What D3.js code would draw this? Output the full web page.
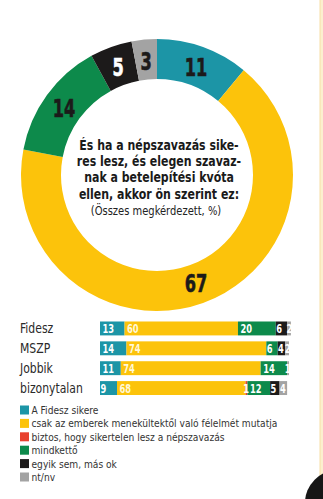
<!DOCTYPE html>
<html><head><meta charset="utf-8">
<script src="https://cdn.jsdelivr.net/npm/d3@7/dist/d3.min.js"></script>
<style>
body{margin:0;background:#fff;}
svg{display:block;}
</style></head>
<body>
<svg id="c" width="323" height="499"></svg>
<script>
// ---- data ----
const donutCats = ["A Fidesz sikere","csak az emberek menekültektől való félelmét mutatja","mindkettő","egyik sem, más ok","nt/nv"];
const donutValues = [11, 67, 14, 5, 3];
const donutColorKeys = [0, 1, 3, 4, 5];

const legendLabels = ["A Fidesz sikere","csak az emberek menekültektől való félelmét mutatja","biztos, hogy sikertelen lesz a népszavazás","mindkettő","egyik sem, más ok","nt/nv"];
const colors = ["#1c95a6","#fcc30b","#e8412e","#0d8a4b","#1c1a1a","#a3a3a3"];

const groups = ["Fidesz","MSZP","Jobbik","bizonytalan"];
const fideszSikere = [13, 14, 11, 9];
const felelem      = [60, 74, 74, 68];
const sikertelen   = [0, 0, 0, 1];
const mindketto    = [20, 6, 14, 12];
const egyikSem     = [6, 4, 0, 5];
const ntnv         = [2, 2, 1, 4];

const titleLines = ["És ha a népszavazás sike-","res lesz, és elegen szavaz-","nak a betelepítési kvóta","ellen, akkor ön szerint ez:"];
const subtitle = "(Összes megkérdezett, %)";

const svg = d3.select("#c");
const narrow = "'DejaVu Sans Condensed','Liberation Sans',Arial,sans-serif";

// condense text horizontally by a factor
function condense(sel, f){
  sel.each(function(){
    const w = this.getComputedTextLength();
    d3.select(this).attr("textLength", w*f).attr("lengthAdjust","spacingAndGlyphs");
  });
  return sel;
}

// right cream strip + decorative blob
svg.append("rect").attr("x",320).attr("y",0).attr("width",3).attr("height",499).attr("fill","#fcefcf");
svg.append("line").attr("x1",320).attr("x2",320).attr("y1",0).attr("y2",499).attr("stroke","#f6dfa6").attr("stroke-width",1);
svg.append("circle").attr("cx",338).attr("cy",503).attr("r",33).attr("fill","#161616");

// ---- donut ----
const cx = 157, cy = 175, rO = 136, rI = 96;
const pie = d3.pie().sort(null).value(d=>d)(donutValues);
const arc = d3.arc().innerRadius(rI).outerRadius(rO);
const g = svg.append("g").attr("transform",`translate(${cx},${cy})`);
g.selectAll("path").data(pie).join("path")
  .attr("d",arc).attr("fill",(d,i)=>colors[donutColorKeys[i]]);
const labArc = d3.arc().innerRadius(rI+19).outerRadius(rI+19);
g.selectAll("text").data(pie).join("text")
  .attr("transform",d=>{const [x,y]=labArc.centroid(d);return `translate(${x},${y}) scale(0.72,1)`;})
  .attr("text-anchor","middle").attr("dy","0.37em")
  .attr("font-family","'DejaVu Sans Condensed',sans-serif").attr("font-weight","bold")
  .attr("font-size",25).attr("stroke-width",0.6)
  .attr("fill",(d,i)=>donutColorKeys[i]===4?"#fff":"#1c1a1a")
  .attr("stroke",(d,i)=>donutColorKeys[i]===4?"#fff":"#1c1a1a")
  .text(d=>d.data);

// center text
titleLines.forEach((t,i)=>{
  const tx = svg.append("text").attr("x",cx+2).attr("y",150+i*16.2)
    .attr("text-anchor","middle").attr("font-family",narrow).attr("font-weight","bold")
    .attr("font-size",14).attr("fill","#1a1a1a").text(t);
  condense(tx,0.87);
});
condense(svg.append("text").attr("x",cx-1).attr("y",215).attr("text-anchor","middle")
  .attr("font-family",narrow).attr("font-size",13).attr("fill","#222").text(subtitle),0.85);

// ---- bars ----
const series = [fideszSikere, felelem, sikertelen, mindketto, egyikSem, ntnv];
const x = d3.scaleLinear().domain([0,100]).range([100,289]);
const y = d3.scaleBand().domain(groups).range([320.5,396]).paddingInner(0.3).paddingOuter(0.05);
const rows = groups.map((gname,j)=>{let acc=0;return series.map((s,k)=>{const v=s[j];const r={g:gname,k,v,x0:acc,x1:acc+v};acc+=v;return r;});});
const flat = rows.flat().filter(d=>d.v>0);
svg.append("g").selectAll("rect").data(flat).join("rect")
  .attr("x",d=>x(d.x0)).attr("width",d=>x(d.x1)-x(d.x0))
  .attr("y",d=>y(d.g)).attr("height",y.bandwidth())
  .attr("fill",d=>colors[d.k]);
condense(svg.append("g").selectAll("text").data(flat).join("text")
  .attr("x",d=>d.v<3 ? x(d.x1)+1.5 : x(d.x0)+(d.v<10?0.4:2.5))
  .attr("text-anchor",d=>d.v<3?"end":"start")
  .attr("y",d=>y(d.g)+y.bandwidth()/2).attr("dy","0.37em")
  .attr("font-family",narrow).attr("font-weight","bold").attr("font-size",12.5)
  .attr("fill",d=>d.k===1?"#fff8d8":"#fff")
  .text(d=>d.v),0.74);
condense(svg.append("g").selectAll("text").data(groups).join("text")
  .attr("x",20).attr("y",d=>y(d)+y.bandwidth()/2).attr("dy","0.36em")
  .attr("font-family",narrow).attr("font-size",14).attr("fill","#2a2a2a").text(d=>d),0.86);

// ---- legend ----
const lg = svg.append("g");
legendLabels.forEach((t,i)=>{
  const yy = 410 + i*13.4;
  lg.append("rect").attr("x",20).attr("y",yy-4.5).attr("width",9).attr("height",9).attr("fill",colors[i]);
  condense(lg.append("text").attr("x",31.5).attr("y",yy).attr("dy","0.36em")
    .attr("font-family",narrow).attr("font-size",11).attr("fill","#333").text(t),0.92);
});
</script>
</body></html>
